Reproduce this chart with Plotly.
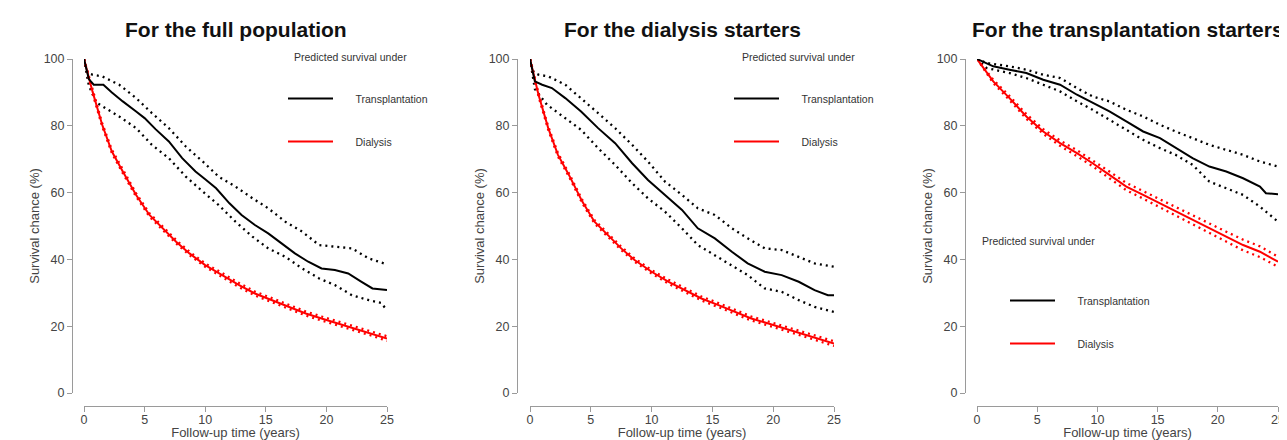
import plotly.graph_objects as go

# ---------------- data ----------------
titles = ["For the full population", "For the dialysis starters", "For the transplantation starters"]
legend_title = "Predicted survival under"
series_names = ["Transplantation", "Dialysis"]
x_ticks = [0, 5, 10, 15, 20, 25]
y_ticks = [0, 20, 40, 60, 80, 100]

# Panel 1: full population
p1_tx_t = [0, 0.4, 0.8, 1.6, 2.3, 3.2, 4.3, 5.0, 5.9, 7.0, 8.1, 9.2, 10.0, 10.9, 12.0, 13.0, 14.1, 15.2, 16.3, 17.4, 18.5, 19.6, 20.7, 21.8, 22.9, 23.8, 25.0]
p1_tx = [100, 94, 92.3, 92.3, 90, 87.3, 84.3, 82.3, 79, 75.3, 70.3, 66.3, 64, 61.3, 56.8, 53.3, 50.3, 47.8, 44.8, 41.8, 39.3, 37.3, 36.8, 35.8, 33.3, 31.3, 30.8]
p1_txu_t = [0, 0.3, 0.7, 1.5, 2.9, 4.3, 5.6, 7.0, 8.4, 9.8, 11.1, 12.5, 13.9, 15.2, 16.6, 18.0, 19.4, 20.7, 22.1, 23.5, 25.0]
p1_txu = [100, 95.8, 95.3, 94.8, 92.3, 88.3, 83.8, 79.3, 73.8, 69.3, 64.8, 61.8, 58.3, 55.3, 51.3, 48.3, 44.3, 43.8, 43.3, 40.3, 38.5]
p1_txl_t = [0, 0.4, 1.0, 2.9, 4.3, 5.6, 7.0, 8.4, 9.8, 11.1, 12.5, 13.9, 15.2, 16.6, 18.0, 19.4, 20.7, 22.1, 23.5, 24.5, 25.0]
p1_txl = [100, 92, 87, 82.8, 79.3, 74.3, 70.3, 64.8, 60.3, 56.3, 51.3, 46.8, 43.3, 40.8, 37.3, 34.3, 32.3, 29.3, 27.8, 27.0, 24.8]
p1_dx_t = [0, 0.7, 1.5, 2.3, 3.2, 4.3, 5.4, 6.5, 7.6, 8.7, 10.0, 11.4, 12.8, 14.1, 15.5, 16.9, 18.3, 19.6, 21.0, 22.4, 23.8, 25.0]
p1_dx = [100, 90.3, 80.3, 72.3, 66.3, 59.3, 53.3, 49.3, 45.3, 41.8, 38.3, 35.3, 32.3, 29.8, 27.8, 25.8, 23.8, 22.3, 20.8, 19.3, 17.8, 16.3]
p1_dxu = [100, 90.8, 80.8, 72.8, 66.8, 59.8, 53.8, 49.8, 45.8, 42.3, 38.8, 35.9, 32.9, 30.4, 28.4, 26.4, 24.4, 22.9, 21.4, 19.9, 18.5, 17.0]
p1_dxl = [100, 89.8, 79.8, 71.8, 65.8, 58.8, 52.8, 48.8, 44.8, 41.3, 37.8, 34.7, 31.7, 29.2, 27.2, 25.2, 23.2, 21.7, 20.2, 18.7, 17.1, 15.6]

# Panel 2: dialysis starters
p2_tx_t = [0, 0.4, 1.0, 1.8, 2.9, 4.2, 5.6, 7.0, 8.4, 9.7, 11.1, 12.5, 13.8, 15.2, 16.6, 17.9, 19.3, 20.7, 22.1, 23.4, 24.5, 25.0]
p2_tx = [100, 93.3, 92.3, 91.3, 88.3, 84.3, 79.3, 74.8, 68.8, 63.8, 59.3, 54.8, 49.3, 46.3, 42.3, 38.8, 36.3, 35.3, 33.3, 30.8, 29.3, 29.3]
p2_txu_t = [0, 0.3, 0.7, 1.5, 2.9, 4.2, 5.6, 7.0, 8.4, 9.7, 11.1, 12.5, 13.8, 15.2, 16.6, 17.9, 19.3, 20.7, 22.1, 23.4, 25.0]
p2_txu = [100, 96, 95.3, 94.8, 92.3, 88.3, 83.8, 79.3, 74.3, 69.3, 63.3, 59.3, 55.3, 53.3, 49.3, 46.3, 43.3, 42.8, 40.8, 38.8, 37.8]
p2_txl_t = [0, 0.4, 1.4, 2.9, 4.2, 5.6, 7.0, 8.4, 9.7, 11.1, 12.5, 13.8, 15.2, 16.6, 17.9, 19.3, 20.7, 22.1, 23.4, 25.0]
p2_txl = [100, 91, 86.3, 82.3, 78.8, 73.3, 68.3, 62.8, 58.3, 54.3, 49.3, 44.3, 41.3, 38.3, 35.3, 31.3, 30.3, 27.8, 25.8, 24.3]
p2_dx_t = [0, 0.7, 1.5, 2.3, 3.2, 4.3, 5.3, 6.4, 7.5, 8.6, 10.0, 11.4, 12.7, 14.1, 15.5, 16.9, 18.2, 19.6, 21.0, 22.3, 23.7, 25.0]
p2_dx = [100, 89.3, 79.3, 71.3, 65.3, 57.3, 51.3, 47.3, 43.3, 39.8, 36.3, 33.3, 30.8, 28.3, 26.3, 24.3, 22.3, 20.8, 19.3, 17.8, 16.3, 14.8]
p2_dxu = [100, 89.8, 79.8, 71.8, 65.8, 57.8, 51.8, 47.8, 43.8, 40.3, 36.8, 33.9, 31.4, 28.9, 26.9, 24.9, 22.9, 21.4, 19.9, 18.5, 17.0, 15.5]
p2_dxl = [100, 88.8, 78.8, 70.8, 64.8, 56.8, 50.8, 46.8, 42.8, 39.3, 35.8, 32.7, 30.2, 27.7, 25.7, 23.7, 21.7, 20.2, 18.7, 17.1, 15.6, 14.1]

# Panel 3: transplantation starters
p3_t = [0, 1.35, 2.7, 4.1, 5.5, 6.9, 8.3, 9.6, 11.0, 12.4, 13.8, 15.2, 16.5, 17.9, 19.3, 20.7, 22.1, 23.5, 24.0, 25.0]
p3_tx = [100, 97.8, 96.8, 95.8, 93.8, 92.3, 89.3, 86.8, 84.3, 81.3, 78.3, 76.3, 73.3, 70.3, 67.8, 66.3, 64.3, 61.8, 59.8, 59.5]
p3_ci_t = [0, 0.8, 2.7, 4.1, 5.5, 6.9, 8.3, 9.6, 11.0, 12.4, 13.8, 15.2, 16.5, 17.9, 19.3, 20.7, 22.1, 23.5, 25.0]
p3_txu = [100, 98.8, 97.8, 96.8, 95.3, 94.3, 91.3, 88.8, 87.3, 84.8, 82.8, 80.3, 78.3, 76.3, 74.3, 72.8, 71.3, 69.3, 67.8]
p3_txl = [100, 97.3, 95.8, 94.3, 92.3, 90.3, 87.3, 84.8, 81.8, 78.8, 75.8, 73.3, 71.3, 68.3, 63.3, 61.3, 59.3, 55.8, 51.3]
p3_dx_t = [0, 1.35, 2.7, 4.1, 5.5, 6.9, 8.3, 9.6, 11.0, 12.4, 13.8, 15.2, 16.5, 17.9, 19.3, 20.7, 22.1, 23.5, 25.0]
p3_dx = [100, 93.3, 88.3, 82.8, 78.3, 74.8, 71.8, 68.8, 65.3, 61.8, 59.3, 56.8, 54.3, 51.8, 49.3, 46.8, 44.3, 42.3, 39.3]
p3_dxu = [100, 93.8, 88.9, 83.5, 79.0, 75.6, 72.7, 69.7, 66.3, 62.9, 60.4, 58.0, 55.6, 53.2, 50.7, 48.3, 45.9, 43.9, 40.8]
p3_dxl = [100, 92.8, 87.7, 82.1, 77.6, 74.0, 70.9, 67.9, 64.3, 60.7, 58.2, 55.6, 53.0, 50.4, 47.9, 45.3, 42.7, 40.7, 37.8]

panels = [
    dict(tx=(p1_tx_t, p1_tx), txu=(p1_txu_t, p1_txu), txl=(p1_txl_t, p1_txl),
         dx=(p1_dx_t, p1_dx), dxu=(p1_dx_t, p1_dxu), dxl=(p1_dx_t, p1_dxl)),
    dict(tx=(p2_tx_t, p2_tx), txu=(p2_txu_t, p2_txu), txl=(p2_txl_t, p2_txl),
         dx=(p2_dx_t, p2_dx), dxu=(p2_dx_t, p2_dxu), dxl=(p2_dx_t, p2_dxl)),
    dict(tx=(p3_t, p3_tx), txu=(p3_ci_t, p3_txu), txl=(p3_ci_t, p3_txl),
         dx=(p3_dx_t, p3_dx), dxu=(p3_dx_t, p3_dxu), dxl=(p3_dx_t, p3_dxl)),
]

# ---------------- layout geometry (pixels in the window) ----------------
OFF = 8  # default page body margin
W, H = 1287 - OFF, 440 - OFF
FONT = "Liberation Sans, Arial, sans-serif"
x_dom_px = [(84, 387), (530, 834), (977, 1278)]
yaxis_line_px = [72, 517, 965]
y_dom_px = (59, 393)
xaxis_line_px = 406
legend_pos_px = [(283, 84), (729, 84), (1005, 286)]
legtitle_pos_px = [(292, 57), (740, 57), (980, 241)]
LEG_PAD = "\u00a0" * 6  # gap between legend line sample and label

BLACK = "#000000"
RED = "#ff0000"
AXIS_GREY = "#9a9a9a"
TEXT_GREY = "#444444"


def fx(px):
    return (px - OFF) / W


def fy(px):
    return 1 - (px - OFF) / H


fig = go.Figure()
for i, p in enumerate(panels):
    xa = "x" if i == 0 else f"x{i+1}"
    ya = "y" if i == 0 else f"y{i+1}"
    leg = "legend" if i == 0 else f"legend{i+1}"
    for key, col in (("txu", BLACK), ("txl", BLACK), ("dxu", RED), ("dxl", RED)):
        xs, ys = p[key]
        fig.add_trace(go.Scatter(x=xs, y=ys, mode="lines", xaxis=xa, yaxis=ya,
                                 line=dict(color=col, width=2.3, dash="2px,4px"),
                                 showlegend=False, hoverinfo="skip"))
    xs, ys = p["dx"]
    fig.add_trace(go.Scatter(x=xs, y=ys, mode="lines", xaxis=xa, yaxis=ya,
                             name=LEG_PAD + series_names[1],
                             line=dict(color=RED, width=2), legend=leg, legendgroup="b",
                             legendrank=2))
    xs, ys = p["tx"]
    fig.add_trace(go.Scatter(x=xs, y=ys, mode="lines", xaxis=xa, yaxis=ya,
                             name=LEG_PAD + series_names[0],
                             line=dict(color=BLACK, width=2), legend=leg, legendgroup="a",
                             legendrank=1))

layout = dict(
    width=W, height=H, margin=dict(l=0, r=0, t=0, b=0, autoexpand=False),
    paper_bgcolor="white", plot_bgcolor="white",
    font=dict(family=FONT, color=TEXT_GREY),
    showlegend=True, annotations=[],
)
for i in range(3):
    sx = "" if i == 0 else str(i + 1)
    x0, x1 = x_dom_px[i]
    layout[f"xaxis{sx}"] = dict(
        domain=[fx(x0), fx(x1)], range=[0, 25], anchor="free", position=fy(xaxis_line_px),
        tickvals=x_ticks, ticks="outside", ticklen=5, tickcolor=AXIS_GREY,
        showline=True, linecolor=AXIS_GREY, linewidth=1, showgrid=False, zeroline=False,
        automargin=False, ticklabelstandoff=-3,
        tickfont=dict(size=12.5, color=TEXT_GREY),
        title=dict(text="Follow-up time (years)", font=dict(size=13, color=TEXT_GREY), standoff=3),
    )
    layout[f"yaxis{sx}"] = dict(
        domain=[fy(y_dom_px[1]), fy(y_dom_px[0])], range=[0, 100],
        anchor="free", position=fx(yaxis_line_px[i]),
        tickvals=y_ticks, ticks="outside", ticklen=5, tickcolor=AXIS_GREY,
        showline=True, linecolor=AXIS_GREY, linewidth=1, showgrid=False, zeroline=False,
        automargin=False,
        tickfont=dict(size=12.5, color=TEXT_GREY),
        title=dict(text="Survival chance (%)", font=dict(size=13, color=TEXT_GREY), standoff=0),
    )
    lx, ly = legend_pos_px[i]
    layout["legend" if i == 0 else f"legend{i+1}"] = dict(
        x=fx(lx), y=fy(ly), xanchor="left", yanchor="top",
        bgcolor="rgba(0,0,0,0)", font=dict(size=10.5, color="#333333", family=FONT),
        tracegroupgap=24, itemwidth=45, traceorder="grouped",
    )
    layout["annotations"].append(dict(
        text=f"<b>{titles[i]}</b>", x=fx((x0 + x1) / 2), y=fy(29), xref="paper", yref="paper",
        xanchor="center", yanchor="middle", showarrow=False,
        font=dict(size=21, color="#111111", family=FONT)))
    tx, ty = legtitle_pos_px[i]
    layout["annotations"].append(dict(
        text=legend_title, x=fx(tx), y=fy(ty), xref="paper", yref="paper",
        xanchor="left", yanchor="middle", showarrow=False,
        font=dict(size=10.5, color="#333333", family=FONT)))

fig.update_layout(**layout)
fig.write_html("out.html")
